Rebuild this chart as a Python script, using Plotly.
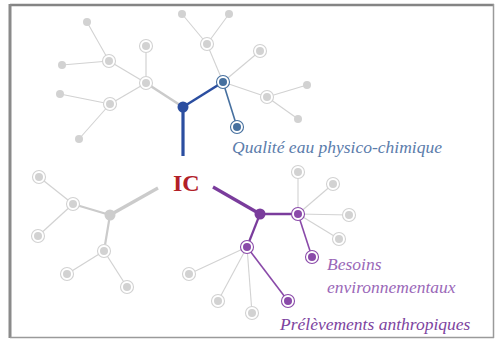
import plotly.graph_objects as go

# ---- data: nodes of the three trees (pixel-like layout coords) ----
node_id = ["ICn", "ICw", "ICe",
           "B0", "B1", "B2", "B3", "B4", "B5", "B6", "B7", "B8", "B9", "B10", "B11", "B12", "B14", "B16", "B17", "B13", "B15",
           "G0", "G1", "G2", "G3", "G4", "G5", "G6",
           "P0", "P1", "P2", "P3", "P4", "P5", "P6", "P7", "P8", "P9", "P10", "P11"]
node_x = [183, 158, 213,
          183, 146, 146, 109, 110, 87, 62, 60, 79, 223, 207, 182, 229, 267, 307, 298, 260, 237,
          110, 73, 104, 39, 38, 67, 127,
          260, 298, 247, 312, 288, 298, 333, 349, 339, 189, 218, 252]
node_y = [156, 188, 187,
          107, 83, 46, 61, 104, 22, 65, 94, 139, 82, 44, 14, 14, 97, 85, 119, 51, 127,
          215, 204, 251, 177, 236, 274, 287,
          214, 214, 247, 257, 301, 172, 184, 215, 239, 274, 301, 313]
node_kind = ["none", "none", "none",
             "root", "ring", "ring", "ring", "ring", "leaf", "leaf", "leaf", "leaf", "ring", "ring", "leaf", "leaf", "ring", "leaf", "leaf", "ring", "ring",
             "root", "ring", "ring", "ring", "ring", "ring", "ring",
             "root", "ring", "ring", "ring", "ring", "ring", "ring", "ring", "ring", "ring", "ring", "ring"]
node_color = ["none", "none", "none",
              "blue", "gray", "gray", "gray", "gray", "gray", "gray", "gray", "gray", "bluel", "gray", "gray", "gray", "gray", "gray", "gray", "gray", "bluel",
              "grayr", "gray", "gray", "gray", "gray", "gray", "gray",
              "purple", "purplel", "purplel", "purplel", "purplel", "gray", "gray", "gray", "gray", "gray", "gray", "gray"]

edge_from = ["ICn", "B0", "B0", "B1", "B1", "B1", "B3", "B3", "B4", "B4", "B9", "B9", "B9", "B9", "B10", "B10", "B14", "B14",
             "ICw", "G0", "G0", "G1", "G1", "G2", "G2",
             "ICe", "P0", "P0", "P1", "P1", "P1", "P1", "P1", "P2", "P2", "P2", "P2"]
edge_to = ["B0", "B1", "B9", "B2", "B3", "B4", "B5", "B6", "B7", "B8", "B10", "B13", "B14", "B15", "B11", "B12", "B16", "B17",
           "G0", "G1", "G2", "G3", "G4", "G5", "G6",
           "P0", "P1", "P2", "P5", "P6", "P7", "P8", "P3", "P9", "P10", "P11", "P4"]
edge_color = ["blue", "grayd", "blue", "gray", "gray", "gray", "gray", "gray", "gray", "gray", "gray", "gray", "gray", "bluel", "gray", "gray", "gray", "gray",
              "grayd", "grayd", "grayd", "gray", "gray", "gray", "gray",
              "purple", "purple", "purple", "gray", "gray", "gray", "gray", "purplel", "gray", "gray", "gray", "purplel"]
edge_width = [3.2, 2.6, 2.6, 1.2, 1.2, 1.2, 1.1, 1.1, 1.1, 1.1, 1.1, 1.1, 1.1, 1.6, 1.1, 1.1, 1.1, 1.1,
              3.2, 2.2, 2.2, 1.2, 1.2, 1.2, 1.2,
              3.2, 2.6, 2.2, 1.1, 1.1, 1.1, 1.1, 1.6, 1.1, 1.1, 1.1, 1.6]

labels_text = ["IC", "Qualité eau physico-chimique", "Besoins", "environnementaux", "Prélèvements anthropiques"]
labels_x = [186, 230, 325, 325, 277]
labels_y = [183, 147, 264, 287, 324]

PAL = {"blue": "#2b4ea0", "bluel": "#46709f", "purple": "#7a3c9c", "purplel": "#8a4aa9",
       "gray": "#d2d2d2", "grayd": "#cbcbcb", "grayr": "#cdcdcd"}
TXT = ["#b22028", "#5b7cab", "#9a68b8", "#9a68b8", "#7d44a0"]
TXT_SIZE = [24, 17.5, 17.5, 17.5, 17.5]

pos = {n: (x, y) for n, x, y in zip(node_id, node_x, node_y)}
fig = go.Figure()

# edges: gray first, then colored on top
order = sorted(range(len(edge_from)), key=lambda i: 0 if edge_color[i].startswith("gray") else 1)
for i in order:
    a, b = pos[edge_from[i]], pos[edge_to[i]]
    fig.add_trace(go.Scatter(x=[a[0], b[0]], y=[a[1], b[1]], mode="lines",
                             line=dict(color=PAL[edge_color[i]], width=edge_width[i]),
                             hoverinfo="skip", showlegend=False))

# nodes
for kind, inner, outer in [("ring", 8, 13), ("leaf", 8, 0), ("root", 11, 0)]:
    for col in ["gray", "grayr", "bluel", "purplel", "blue", "purple"]:
        idx = [i for i in range(len(node_id)) if node_kind[i] == kind and node_color[i] == col]
        if not idx:
            continue
        xs = [node_x[i] for i in idx]
        ys = [node_y[i] for i in idx]
        if outer:
            fig.add_trace(go.Scatter(x=xs, y=ys, mode="markers",
                                     marker=dict(size=outer, color="white",
                                                 line=dict(color=PAL[col], width=1.1)),
                                     hoverinfo="skip", showlegend=False))
        fig.add_trace(go.Scatter(x=xs, y=ys, mode="markers",
                                 marker=dict(size=inner, color=PAL[col], line=dict(width=0)),
                                 hoverinfo="skip", showlegend=False))

for i, t in enumerate(labels_text):
    fig.add_annotation(x=labels_x[i], y=labels_y[i], text=(f"<b>{t}</b>" if i == 0 else f"<i>{t}</i>"),
                       showarrow=False, xanchor=("center" if i == 0 else "left"), yanchor="middle",
                       font=dict(family="Liberation Serif, DejaVu Serif, serif", size=TXT_SIZE[i], color=TXT[i]))

# frame
fig.add_shape(type="line", xref="paper", yref="paper", x0=10/495, x1=494/495, y0=1-5/339, y1=1-5/339,
              line=dict(color="#848484", width=2.5))
fig.add_shape(type="line", xref="paper", yref="paper", x0=10/495, x1=10/495, y0=1-4/339, y1=1-338/339,
              line=dict(color="#8a8a8a", width=3))
fig.add_shape(type="line", xref="paper", yref="paper", x0=493.5/495, x1=493.5/495, y0=1-4/339, y1=1-338/339,
              line=dict(color="#9a9a9a", width=1.5))
fig.add_shape(type="line", xref="paper", yref="paper", x0=10/495, x1=494/495, y0=1-337.5/339, y1=1-337.5/339,
              line=dict(color="#9a9a9a", width=1.5))

fig.update_layout(width=495, height=339, margin=dict(l=0, r=0, t=0, b=0),
                  paper_bgcolor="white", plot_bgcolor="white",
                  xaxis=dict(range=[0, 495], visible=False, fixedrange=True),
                  yaxis=dict(range=[339, 0], visible=False, fixedrange=True))
fig.write_html("out.html", config={"displayModeBar": False},
               post_script="document.body.style.margin='0';document.body.style.overflow='hidden';")
